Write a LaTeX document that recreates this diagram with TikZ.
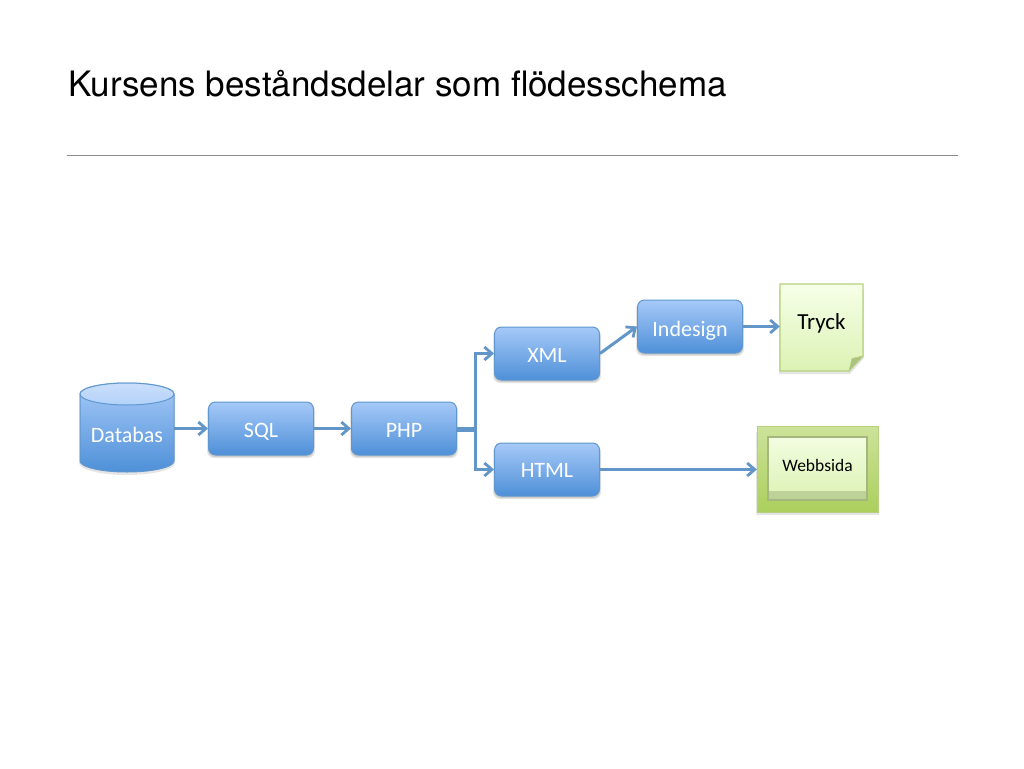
\documentclass[tikz,border=0pt]{standalone}
\usepackage{fontspec}
\setmainfont{Carlito}
\newfontfamily\titlefont{TeX Gyre Heros}
\usetikzlibrary{arrows.meta,positioning,calc}
\definecolor{boxtop}{HTML}{A6C9F8}
\definecolor{boxbot}{HTML}{4E90D8}
\definecolor{boxline}{HTML}{5F97CE}
\definecolor{arrowc}{HTML}{6296C9}
\definecolor{greenline}{HTML}{B5D07E}
\definecolor{greentop}{HTML}{F6FFE8}
\definecolor{greenbot}{HTML}{DCF2B4}
\definecolor{weboutertop}{HTML}{CDE39A}
\definecolor{webouterbot}{HTML}{ABCF5C}
\definecolor{webline}{HTML}{A3B77E}
\tikzset{
  px/.style={x=1pt,y=-1pt},
  flowbox/.style={rectangle,rounded corners=7pt,draw=boxline,line width=1pt,top color=boxtop,bottom color=boxbot,
    minimum width=105pt,minimum height=53pt,text=white,font=\fontsize{22}{26}\selectfont,inner sep=0pt,text depth=0pt},
  softshadow/.style={fill=black,opacity=0.10,draw=none},
  link/.style={draw=arrowc,line width=3pt,-{Straight Barb[length=7.5pt,width=13pt,line width=2.8pt]}},
}
\begin{document}
\begin{tikzpicture}[px]
\useasboundingbox[fill=white] (0,0) rectangle (1024,768);
% title
\node[anchor=west,inner sep=0pt,font=\titlefont\fontsize{35}{42}\selectfont] (title) at (68,84) {Kursens beståndsdelar som flödesschema};
\coordinate (ruleL) at (67,155.5);
\coordinate (ruleR) at (958,155.5);
\draw[color=black!45,line width=0.9pt] (ruleL) -- (ruleR);

% shadows
\foreach \a/\b/\c/\d in {208/402/314/455,351/402/457/455,494/327/600/380,494/443/600/496,637/300/743/353}{
  \fill[softshadow,rounded corners=7pt] (\a-1,\b+2) rectangle (\c+1,\d+3);
  \fill[softshadow,rounded corners=7pt] (\a,\b+2) rectangle (\c,\d+2);
}
\fill[softshadow] (79,395) -- (79,463) arc[start angle=180,end angle=0,x radius=48,y radius=12] -- (175,395) -- cycle;
\fill[softshadow] (779,290) -- (864,290) -- (864,358) -- (850,374) -- (779,374) -- cycle;
\fill[softshadow] (756,432) rectangle (879,515);

% process boxes
\node[flowbox,text height=17pt] (sql) at (261,428.5) {SQL};
\node[flowbox,text height=17pt] (php) at (404,428.5) {PHP};
\node[flowbox,text height=17pt] (xml) at (547,353.5) {XML};
\node[flowbox,text height=15pt] (html) at (547,469.5) {HTML};
\node[flowbox,text height=19pt] (ind) at (690,326.5) {Indesign};

% database cylinder
\shade[top color=boxtop,bottom color=boxbot,draw=boxline,line width=1pt]
  (80,394) -- (80,461) arc[start angle=180,end angle=0,x radius=47,y radius=11] -- (174,394) arc[start angle=0,end angle=-180,x radius=47,y radius=11] -- cycle;
\shade[top color=boxtop!60!white,bottom color=boxtop!85!white,draw=boxline,line width=1pt]
  (127,394) ellipse[x radius=47,y radius=11];
\node[inner sep=0pt,text=white,font=\fontsize{22}{26}\selectfont,minimum width=94pt,minimum height=89pt,text height=28pt,text depth=0pt] (db) at (127,428.5) {Databas};

% Tryck note
\shade[top color=greentop,bottom color=greenbot,draw=greenline,line width=1.1pt]
  (780,284) -- (863,284) -- (863,356) -- (849,371) -- (780,371) -- cycle;
\fill[greenline!90!black!90,draw=greenline,line width=0.6pt] (863,356) -- (852,358.5) -- (849,371) -- cycle;
\node[inner sep=0pt,text=black,font=\fontsize{23}{27}\selectfont,minimum width=83pt,minimum height=87pt,text height=6pt,text depth=0pt] (tryck) at (821.5,326.5) {Tryck};

% Webbsida
\shade[top color=weboutertop,bottom color=webouterbot,draw=greenline,line width=1pt] (757,426) rectangle (878,512);
\shade[top color=greentop!85!greenbot,bottom color=greenbot,draw=webline,line width=1.4pt] (768,437) rectangle (867,500);
\fill[webline,opacity=0.55] (768,491) rectangle (867,500.5);
\node[inner sep=0pt,text=black,font=\fontsize{17.5}{21}\selectfont,minimum width=121pt,minimum height=86pt,text height=4pt,text depth=0pt] (web) at (817.5,469.5) {Webbsida};

% connectors
\draw[link] (db.east) -- (sql.west);
\draw[link] (sql.east) -- (php.west);
\coordinate (fork) at (475,428);
\coordinate (forkb) at (475,430);
\draw[link] ($(php.east)+(0,-0.5)$) -- (fork) |- (xml.west);
\draw[link] ($(php.east)+(0,1.5)$) -- (forkb) |- (html.west);
\draw[link] (xml.east) -- (ind.west);
\draw[link] (ind.east) -- (tryck.west);
\draw[link] (html.east) -- (web.west);
\end{tikzpicture}
\end{document}
